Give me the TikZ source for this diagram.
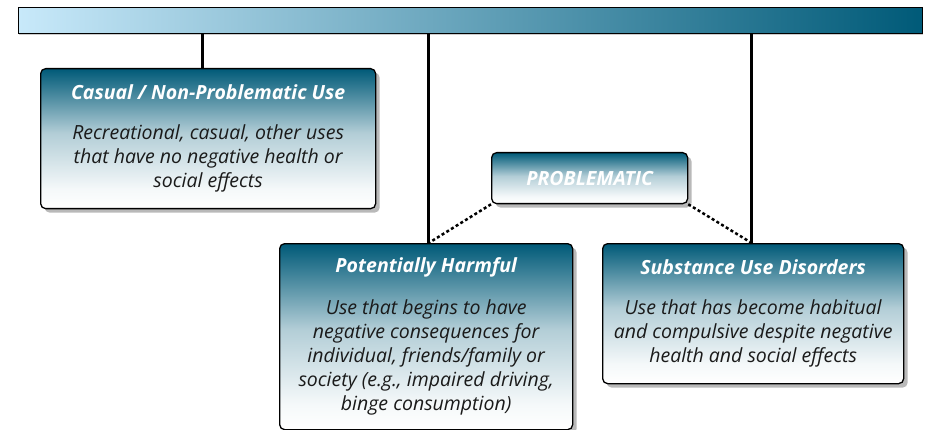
\documentclass[tikz,border=0pt]{standalone}
\usepackage{fontspec}
\setmainfont{Open Sans}
\usetikzlibrary{shadows}
\definecolor{sudark}{HTML}{005A78}
\definecolor{sulight}{HTML}{C8E9FA}
\definecolor{bodytext}{HTML}{1A1A1A}
\pgfdeclareverticalshading{boxshade}{100bp}{color(0bp)=(white); color(25bp)=(white); color(32bp)=(sudark!4!white);
  color(52bp)=(sudark!30!white); color(65bp)=(sudark!70!white); color(75bp)=(sudark); color(100bp)=(sudark)}
\tikzset{
  box/.style={draw=black, line width=1.3pt, rounded corners=5pt, anchor=north west,
    shading=boxshade,
    drop shadow={shadow xshift=4pt, shadow yshift=-4pt, opacity=0.55}},
  boxtitle/.style={text=white, font=\fontsize{19.5}{22}\selectfont\bfseries\itshape},
  boxbody/.style={text=bodytext, align=center, font=\fontsize{19.5}{24}\selectfont\itshape},
  stem/.style={line width=3pt},
  link/.style={line width=2.5pt, dash pattern=on 3pt off 2.5pt}
}
\begin{document}
\begin{tikzpicture}[x=1pt,y=-1pt]
\useasboundingbox (0,0) rectangle (925,430);
% scale bar
\node[draw=black, line width=1pt, anchor=north west, minimum width=904pt, minimum height=26pt,
  inner sep=0pt, left color=sulight, right color=sudark,
  drop shadow={shadow xshift=0pt, shadow yshift=-2pt, opacity=0.4}] (bar) at (18,7) {};
% boxes
\node[box, minimum width=335pt, minimum height=140pt] (casual) at (40,68) {};
\node[box, minimum width=293pt, minimum height=186pt] (harm) at (279,243) {};
\node[box, minimum width=301pt, minimum height=140pt] (sud) at (602,243) {};
\node[box, minimum width=196pt, minimum height=51pt] (prob) at (491,152) {};
% titles
\node[boxtitle] (casualtitle) at ([yshift=-24pt]casual.north) {Casual / Non-Problematic Use};
\node[boxtitle] (harmtitle) at ([yshift=-24pt]harm.north) {Potentially Harmful};
\node[boxtitle] (sudtitle) at ([yshift=-24pt]sud.north) {Substance Use Disorders};
\node[boxtitle] (probtitle) at (prob.center) {PROBLEMATIC};
% texts
\node[boxbody] (casualtext) at ([yshift=-90pt]casual.north)
  {Recreational, casual, other uses\\that have no negative health or\\social effects};
\node[boxbody] (harmtext) at ([yshift=-114pt]harm.north)
  {Use that begins to have\\negative consequences for\\individual, friends/family or\\society (e.g., impaired driving,\\binge consumption)};
\node[boxbody] (sudtext) at ([yshift=-90pt]sud.north)
  {Use that has become habitual\\and compulsive despite negative\\health and social effects};
% connectors
\coordinate (harmtop) at ([xshift=2.5pt]harm.north);
\coordinate (sudtop) at ([xshift=-1.5pt]sud.north);
\draw[stem] ([xshift=-5.5pt]casual.north |- bar.south) -- ([xshift=-5.5pt]casual.north);
\draw[stem] (harmtop |- bar.south) -- (harmtop);
\draw[stem] (sudtop |- bar.south) -- (sudtop);
\draw[link] (prob.south west) -- (harmtop);
\draw[link] (prob.south east) -- (sudtop);
\end{tikzpicture}
\end{document}
